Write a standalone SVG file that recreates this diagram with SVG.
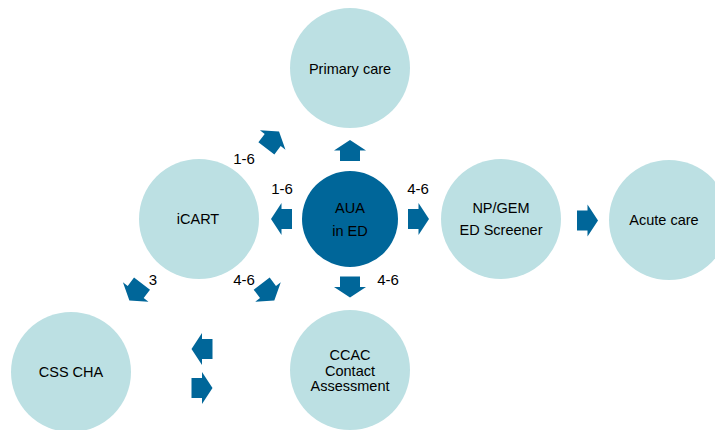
<svg xmlns="http://www.w3.org/2000/svg" xmlns:xlink="http://www.w3.org/1999/xlink" width="715" height="430" viewBox="0 0 715 430">
  <style>
    .node { fill: #bce0e3; }
    .hub { fill: #006699; }
    .arrow { fill: #006699; }
    text { font-family: "Liberation Sans", Arial, sans-serif; fill: #000; text-anchor: middle; }
    .name { font-size: 14.5px; }
    .lbl { font-size: 15px; }
  </style>
  <defs>
    <!-- block arrow pointing right, centred on the origin -->
    <path id="blk" d="M-10.5,-10 L0,-10 L0,-16 L10.5,0 L0,16 L0,10 L-10.5,10 Z"/>
  </defs>
  <rect width="715" height="430" fill="#ffffff"/>

  <g id="primary-care">
    <circle class="node" cx="350" cy="68" r="60"/>
    <text class="name" x="350" y="74">Primary care</text>
  </g>
  <g id="icart">
    <circle class="node" cx="199" cy="219" r="60"/>
    <text class="name" x="198" y="224">iCART</text>
  </g>
  <g id="aua-ed">
    <circle class="hub" cx="350" cy="219" r="48"/>
    <text class="name" x="350" y="213">AUA</text>
    <text class="name" x="350" y="236">in ED</text>
  </g>
  <g id="np-gem">
    <circle class="node" cx="501" cy="219" r="60"/>
    <text class="name" x="501" y="213">NP/GEM</text>
    <text class="name" x="501" y="235">ED Screener</text>
  </g>
  <g id="acute-care">
    <circle class="node" cx="669" cy="220" r="60"/>
    <text class="name" x="664" y="225">Acute care</text>
  </g>
  <g id="css-cha">
    <circle class="node" cx="71" cy="372" r="60"/>
    <text class="name" x="71" y="377">CSS CHA</text>
  </g>
  <g id="ccac">
    <circle class="node" cx="350" cy="370" r="60"/>
    <text class="name" x="350" y="360">CCAC</text>
    <text class="name" x="350" y="375.5">Contact</text>
    <text class="name" x="350" y="391">Assessment</text>
  </g>

  <g id="connectors">
    <use class="arrow" xlink:href="#blk" transform="translate(350,150.5) rotate(-90)"/>
    <use class="arrow" xlink:href="#blk" transform="translate(350,287) rotate(90)"/>
    <use class="arrow" xlink:href="#blk" transform="translate(281.5,219) rotate(180)"/>
    <use class="arrow" xlink:href="#blk" transform="translate(418.5,219)"/>
    <use class="arrow" xlink:href="#blk" transform="translate(587.5,220.5)"/>
    <use class="arrow" xlink:href="#blk" transform="translate(272.7,140) rotate(-53)"/>
    <use class="arrow" xlink:href="#blk" transform="translate(268,292) rotate(53)"/>
    <use class="arrow" xlink:href="#blk" transform="translate(135.7,292) rotate(127)"/>
    <use class="arrow" xlink:href="#blk" transform="translate(202,349) rotate(180)"/>
    <use class="arrow" xlink:href="#blk" transform="translate(202,388)"/>
    <text class="lbl" x="244" y="164">1-6</text>
    <text class="lbl" x="282" y="194">1-6</text>
    <text class="lbl" x="418" y="194">4-6</text>
    <text class="lbl" x="153" y="285">3</text>
    <text class="lbl" x="244" y="285">4-6</text>
    <text class="lbl" x="388" y="285">4-6</text>
  </g>
</svg>
